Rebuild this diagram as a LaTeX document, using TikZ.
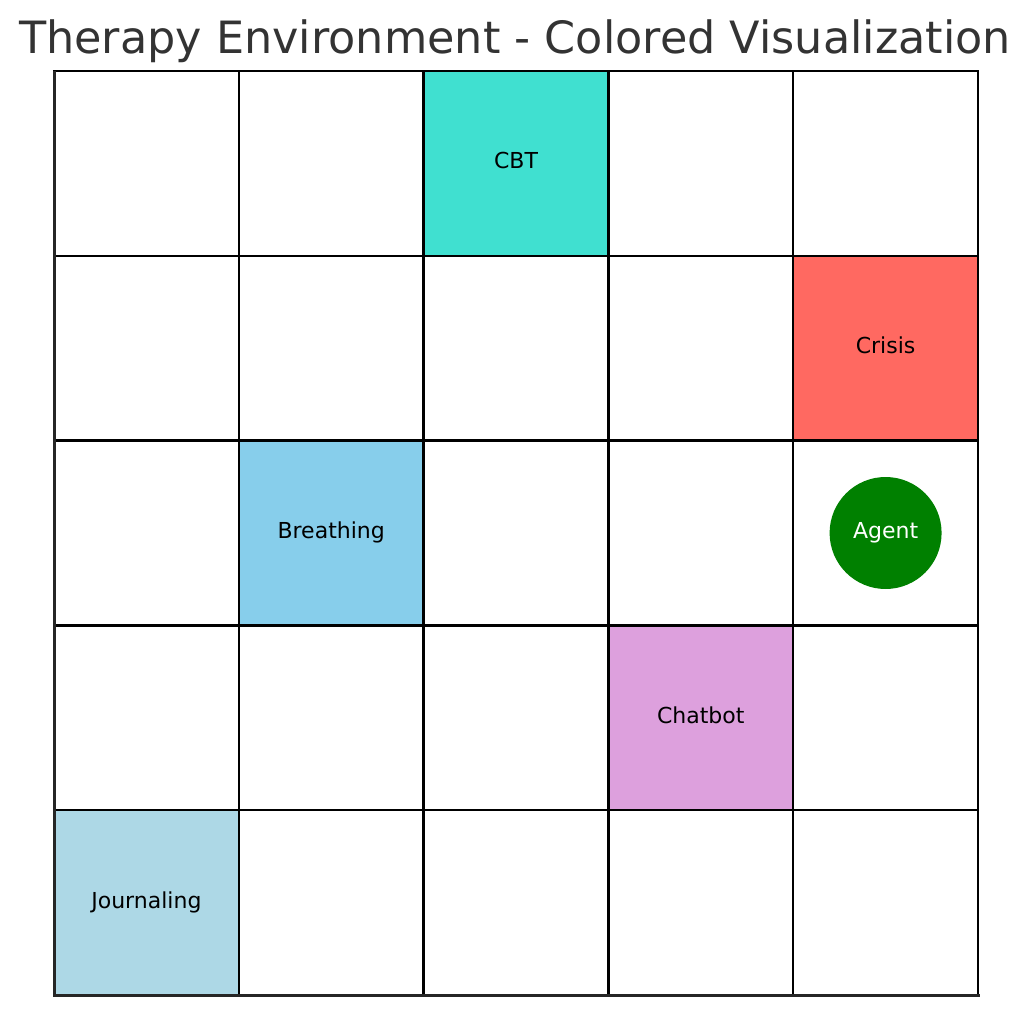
\documentclass[tikz,border=0pt]{standalone}
\usepackage{fontspec}
\setmainfont{DejaVu Sans}
\usepackage{xcolor}
\usepackage{tikz}
\usetikzlibrary{positioning}
\definecolor{titlegray}{RGB}{51, 51, 51}
\definecolor{spinegray}{RGB}{38, 38, 38}
\definecolor{cbtfill}{RGB}{64, 224, 208}
\definecolor{crisisfill}{RGB}{255, 105, 97}
\definecolor{breathfill}{RGB}{135, 206, 235}
\definecolor{chatfill}{RGB}{221, 160, 221}
\definecolor{journalfill}{RGB}{173, 216, 230}
\definecolor{agentgreen}{RGB}{0, 128, 0}
\tikzset{
  font=\fontsize{22}{26}\selectfont,
  cellblock/.style={
    rectangle, draw=black, line width=2.5pt,
    minimum size=184.8pt, inner sep=0pt, outer sep=0pt,
    text height=1.18em, text depth=0.1em
  },
  agentdot/.style={
    circle, fill=agentgreen, minimum size=112pt, inner sep=0pt,
    text=white, text height=1.18em, text depth=0.1em
  },
  spineline/.style={draw=spinegray, line width=3pt},
  titletext/.style={
    text=titlegray, font=\fontsize{44.5}{52}\selectfont, anchor=base
  }
}
\begin{document}
\begin{tikzpicture}[x=1pt, y=-1pt]
  \useasboundingbox (0,0) rectangle (1031,1014);

  \node[titletext] (title) at (515,54) {Therapy Environment - Colored Visualization};

  % empty grid
  \foreach \r in {0,...,4}
    \foreach \c in {0,...,4}
      \node[cellblock] (cell-\r-\c) at ({54+184.8*(\c+0.5)}, {71+184.8*(\r+0.5)}) {};

  % coloured cells
  \node[cellblock, fill=cbtfill] (cbt) at (cell-0-2) {CBT};
  \node[cellblock, fill=crisisfill] (crisis) at (cell-1-4) {Crisis};
  \node[cellblock, fill=breathfill] (breathing) at (cell-2-1) {Breathing};
  \node[cellblock, fill=chatfill] (chatbot) at (cell-3-3) {Chatbot};
  \node[cellblock, fill=journalfill] (journaling) at (cell-4-0) {Journaling};

  \node[agentdot] (agent) at (cell-2-4) {Agent};

  % axis spines
  \draw[spineline] (cell-0-0.north west) -- (cell-4-0.south west) -- ([xshift=2pt]cell-4-4.south east);
\end{tikzpicture}
\end{document}
